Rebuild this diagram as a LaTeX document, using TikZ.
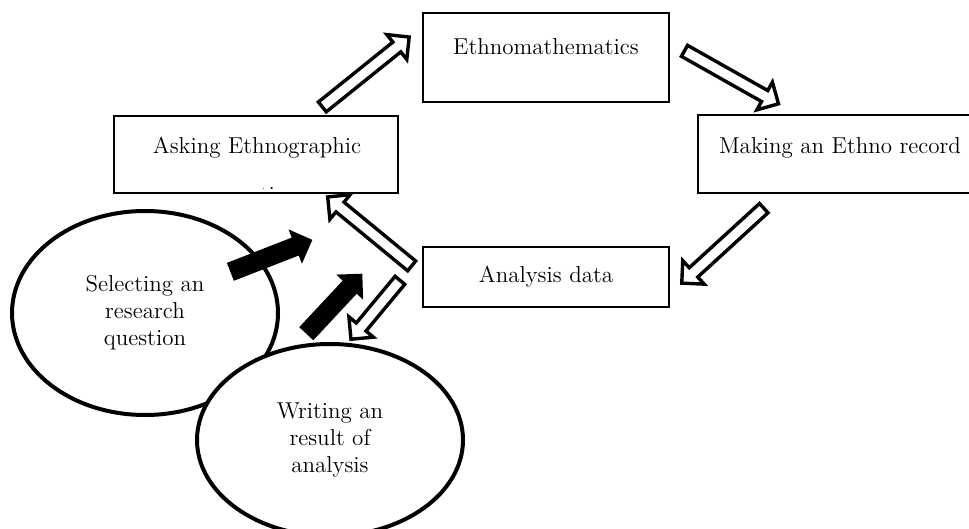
\documentclass[tikz,border=0pt]{standalone}
\usepackage{amsmath, amssymb}
\usepackage{xcolor}
\usepackage{tikz}
\usetikzlibrary{shapes.geometric, shapes.arrows, positioning, calc}

\newcommand{\diagfont}{\fontsize{11.5}{13.5}\selectfont}
\newcommand{\blockarrow}[3]{%
  \path let \p1=($(#3)-(#2)$), \n1={atan2(\y1,\x1)}, \n2={veclen(\x1,\y1)} in
    node[#1, rotate=\n1, minimum height={\n2*1pt}, anchor=tail] at (#2) {};}

\tikzset{
  box/.style={draw, line width=0.8pt, rectangle, inner sep=0pt},
  txt/.style={font=\diagfont, inner sep=0pt, align=center},
  oval/.style={ellipse, draw, line width=2pt, fill=white, font=\diagfont, align=center, inner sep=0pt},
  hollowarrow/.style={single arrow, draw, line width=1.7pt, fill=white, inner sep=0pt, inner ysep=2.3pt, single arrow head extend=4.8pt, minimum width=0pt},
  solidarrow/.style={single arrow, fill=black, inner sep=0pt, inner ysep=4.6pt, single arrow head extend=4.4pt, minimum width=0pt}
}

\begin{document}
\begin{tikzpicture}[x=0.5pt, y=-0.5pt]
\useasboundingbox (0,0) rectangle (969,529);

% --- CAIXAS DO CICLO ---
\node[box, minimum width=123pt, minimum height=44.5pt] (em) at (546,57.5) {};
\node[txt] (emtxt) at (546,47) {Ethnomathematics};

\node[box, minimum width=142pt, minimum height=39pt] (rec) at (840,154) {};
\node[txt] (rectxt) at (840,148) {Making an Ethno record};

\node[box, minimum width=123pt, minimum height=30pt] (ana) at (546,277) {};
\node[txt] (anatxt) at (546,277) {Analysis data};

\node[box, minimum width=142pt, minimum height=38.5pt] (ask) at (256,154.5) {};
\node[txt] (asktxt) at (257,148) {Asking Ethnographic};
\begin{scope}
  \clip (114,116) rectangle (398,189);
  \node[txt, anchor=base] (askq) at (262,203) {questions};
\end{scope}

% --- ELIPSES ---
\node[oval, minimum width=133pt, minimum height=102pt] (sel) at (145,313) {Selecting an\\research\\question};
\node[oval, minimum width=133pt, minimum height=96pt] (wri) at (330,440) {Writing an\\result of\\analysis};

% --- PONTOS DAS SETAS ---
\coordinate (a1s) at (321,108);  \coordinate (a1e) at (408,38);
\coordinate (a2s) at (683,50);   \coordinate (a2e) at (777,103);
\coordinate (a3s) at (765,207);  \coordinate (a3e) at (683,282);
\coordinate (a4s) at (413,267);  \coordinate (a4e) at (329,198);
\coordinate (a5s) at (401,279);  \coordinate (a5e) at (352,338);
\coordinate (b1s) at (230,272);  \coordinate (b1e) at (312,240);
\coordinate (b2s) at (306,334);  \coordinate (b2e) at (362,274);

% --- SETAS VAZADAS ---
\blockarrow{hollowarrow}{a1s}{a1e}
\blockarrow{hollowarrow}{a2s}{a2e}
\blockarrow{hollowarrow}{a3s}{a3e}
\blockarrow{hollowarrow}{a4s}{a4e}
\blockarrow{hollowarrow}{a5s}{a5e}

% --- SETAS CHEIAS ---
\blockarrow{solidarrow}{b1s}{b1e}
\blockarrow{solidarrow}{b2s}{b2e}
\end{tikzpicture}
\end{document}
